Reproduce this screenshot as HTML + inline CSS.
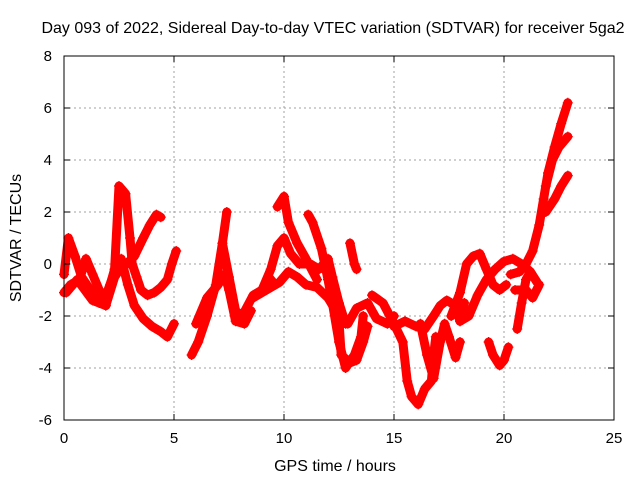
<!DOCTYPE html>
<html><head><meta charset="utf-8"><style>
body{margin:0;background:#fff}
svg{display:block;font-family:"Liberation Sans",sans-serif}
</style></head><body>
<svg id="chart" width="640" height="480">
<text x="333" y="33" font-size="16" text-anchor="middle">Day 093 of 2022, Sidereal Day-to-day VTEC variation (SDTVAR) for receiver 5ga2</text>
<text x="335" y="471" font-size="16" text-anchor="middle">GPS time / hours</text>
<text transform="translate(21,238) rotate(-90)" font-size="16" text-anchor="middle">SDTVAR / TECUs</text>
<g id="grid"></g><g id="marks"></g><g id="axes"></g>
</svg>
<script>
const xTicks=[0,5,10,15,20,25];
const yTicks=[-6,-4,-2,0,2,4,6,8];
const track1=[[0,-0.4],[0.2,1.0],[0.5,0.3],[0.8,-0.5],[1.2,-1.0],[1.6,-1.5],[2.0,-1.0],[2.3,-0.3],[2.6,0.2],[2.9,-0.8],[3.2,-1.6],[3.6,-2.1],[4.0,-2.4],[4.4,-2.6],[4.7,-2.8],[5.0,-2.3]];
const track2=[[0,-1.1],[0.3,-0.8],[0.7,-0.6],[1.0,0.2],[1.3,-0.4],[1.6,-1.0],[1.9,-1.6],[2.1,-0.8],[2.3,-0.2]];
const track3=[[2.3,-0.2],[2.5,3.0],[2.8,2.7],[3.0,1.0],[3.1,0.0],[3.3,-0.5],[3.5,-1.0],[3.8,-1.2],[4.1,-1.1],[4.4,-0.9],[4.7,-0.6],[4.9,0.0],[5.1,0.5]];
const track4=[[2.6,-0.2],[3.2,0.3],[3.6,1.0],[3.9,1.5],[4.2,1.9],[4.4,1.8]];
const track5=[[0.1,-1.1],[0.6,-0.6],[1.3,-1.4],[1.9,-1.6],[2.3,-0.5],[2.7,0.0]];
const track6=[[5.8,-3.5],[6.1,-3.0],[6.5,-2.0],[6.9,-0.8],[7.2,0.8],[7.4,2.0]];
const track7=[[6.0,-2.3],[6.5,-1.3],[7.0,-0.8],[7.3,-0.4],[7.5,-1.0],[7.8,-2.2],[8.2,-2.3],[8.5,-1.8]];
const track8=[[7.2,0.8],[7.5,-0.5],[7.8,-1.8],[8.1,-2.0],[8.6,-1.2],[9.0,-1.0],[9.3,-0.5],[9.6,-0.8]];
const track9=[[9.7,2.2],[10.0,2.6],[10.2,1.6],[10.6,0.8],[11.0,0.2],[11.5,-0.6]];
const track10=[[9.0,-1.0],[9.4,-0.2],[9.7,0.7],[10.0,1.0],[10.3,0.4],[10.7,0.0],[11.2,0.0],[11.6,-0.2],[12.0,0.2],[12.2,-0.5],[12.5,-1.5],[12.8,-2.3]];
const track11=[[8.6,-1.3],[9.2,-1.0],[9.8,-0.7],[10.2,-0.3],[10.6,-0.5],[11.0,-0.8],[11.5,-0.9],[12.0,-1.3],[12.5,-2.0],[12.9,-2.3],[13.3,-1.7],[13.8,-1.5],[14.2,-2.1],[14.7,-2.3],[15.0,-2.0]];
const track12=[[11.1,1.9],[11.3,1.6],[11.7,0.6],[12.0,-0.6],[12.2,-1.5],[12.5,-3.0],[12.8,-4.0],[13.2,-3.5],[13.5,-2.8],[13.6,-2.0]];
const track13=[[12.5,-2.2],[12.6,-3.5],[13.0,-3.8],[13.3,-3.7],[13.6,-3.0],[13.8,-2.4]];
const track14=[[13.0,0.8],[13.2,0.0],[13.3,-0.2]];
const track15=[[14.0,-1.2],[14.5,-1.5],[15.0,-2.3],[15.4,-3.0],[15.6,-4.5],[15.8,-5.1],[16.1,-5.4],[16.4,-4.8],[16.7,-4.5],[16.8,-3.5],[16.9,-2.8]];
const track16=[[15.0,-2.4],[15.5,-2.2],[16.0,-2.4],[16.4,-2.5],[16.8,-2.0],[17.1,-1.6],[17.4,-1.4],[17.8,-1.6],[18.0,-2.2],[18.2,-1.5]];
const track17=[[16.2,-2.3],[16.5,-3.5],[16.8,-4.4],[17.1,-3.0],[17.3,-2.3],[17.5,-2.8],[17.8,-3.6],[18.0,-3.0]];
const track18=[[17.6,-2.0],[18.0,-1.1],[18.3,0.0],[18.6,0.3],[18.9,0.4],[19.2,-0.2],[19.5,-0.8],[19.8,-1.0],[20.1,-0.8]];
const track19=[[18.0,-2.2],[18.4,-2.0],[18.8,-1.2],[19.2,-0.6],[19.6,-0.2],[20.0,0.1],[20.4,0.2],[20.8,0.0],[21.2,-0.3],[21.5,-0.7]];
const track20=[[20.3,-0.4],[20.7,-0.3],[21.0,0.0],[21.3,0.5],[21.6,1.5],[21.8,2.5],[22.0,3.5],[22.3,4.5],[22.6,5.4],[22.9,6.2]];
const track21=[[21.9,3.0],[22.2,4.0],[22.5,4.5],[22.9,4.9]];
const track22=[[21.9,2.0],[22.3,2.5],[22.6,3.0],[22.9,3.4]];
const track23=[[19.3,-3.0],[19.5,-3.5],[19.8,-3.9],[20.0,-3.7],[20.2,-3.2]];
const track24=[[20.6,-2.5],[20.8,-1.5],[21.0,-0.6],[21.2,-0.3]];
const track25=[[20.5,-1.0],[21.0,-1.0],[21.3,-1.3],[21.6,-0.8]];
const tracks=[track1,track2,track3,track4,track5,track6,track7,track8,track9,track10,track11,track12,track13,track14,track15,track16,track17,track18,track19,track20,track21,track22,track23,track24,track25];
const NS='http://www.w3.org/2000/svg';
const X0=64,X1=614,Y0=420,Y1=56;
const xs=v=>X0+(v-0)/(25-0)*(X1-X0);
const ys=v=>Y0-(v+6)/(14)*(Y0-Y1);
function mk(t,a){const e=document.createElementNS(NS,t);for(const k in a)e.setAttribute(k,a[k]);return e;}
const grid=document.getElementById('grid'),axes=document.getElementById('axes'),marks=document.getElementById('marks');
xTicks.forEach(t=>{const x=xs(t);
 if(t>0&&t<25){const g=mk('line',{x1:x,x2:x,y1:Y1,y2:Y0,stroke:'#a0a0a0','stroke-dasharray':'2,3'});grid.appendChild(g);}
 const tk=mk('line',{x1:x,x2:x,y1:Y0,y2:Y0-6,stroke:'#000'});axes.appendChild(tk);
 const tk2=mk('line',{x1:x,x2:x,y1:Y1,y2:Y1+6,stroke:'#000'});axes.appendChild(tk2);
 const l=mk('text',{x:x,y:Y0+23,'font-size':15,'text-anchor':'middle'});l.textContent=t;axes.appendChild(l);});
yTicks.forEach(t=>{const y=ys(t);
 if(t>-6&&t<8){const g=mk('line',{x1:X0,x2:X1,y1:y,y2:y,stroke:'#a0a0a0','stroke-dasharray':'2,3'});grid.appendChild(g);}
 const tk=mk('line',{x1:X0,x2:X0+6,y1:y,y2:y,stroke:'#000'});axes.appendChild(tk);
 const tk2=mk('line',{x1:X1,x2:X1-6,y1:y,y2:y,stroke:'#000'});axes.appendChild(tk2);
 const l=mk('text',{x:X0-12,y:y+5,'font-size':15,'text-anchor':'end'});l.textContent=t;axes.appendChild(l);});
const fr=mk('rect',{x:X0,y:Y1,width:X1-X0,height:Y0-Y1,fill:'none',stroke:'#000'});


axes.appendChild(fr);
tracks.forEach(tr=>{
 const p=mk('polyline',{points:tr.map(d=>xs(d[0])+','+ys(d[1])).join(' '),fill:'none',stroke:'#ff0000','stroke-width':9,'stroke-linejoin':'round','stroke-linecap':'round'});
 
 
 marks.appendChild(p);
 tr.forEach(d=>{const x=xs(d[0]),y=ys(d[1]);
  const m=mk('path',{d:`M${x-5},${y}h10M${x},${y-5}v10`,stroke:'#ff0000','stroke-width':1.2});
  
  
  marks.appendChild(m);});
});
</script>
</body></html>
